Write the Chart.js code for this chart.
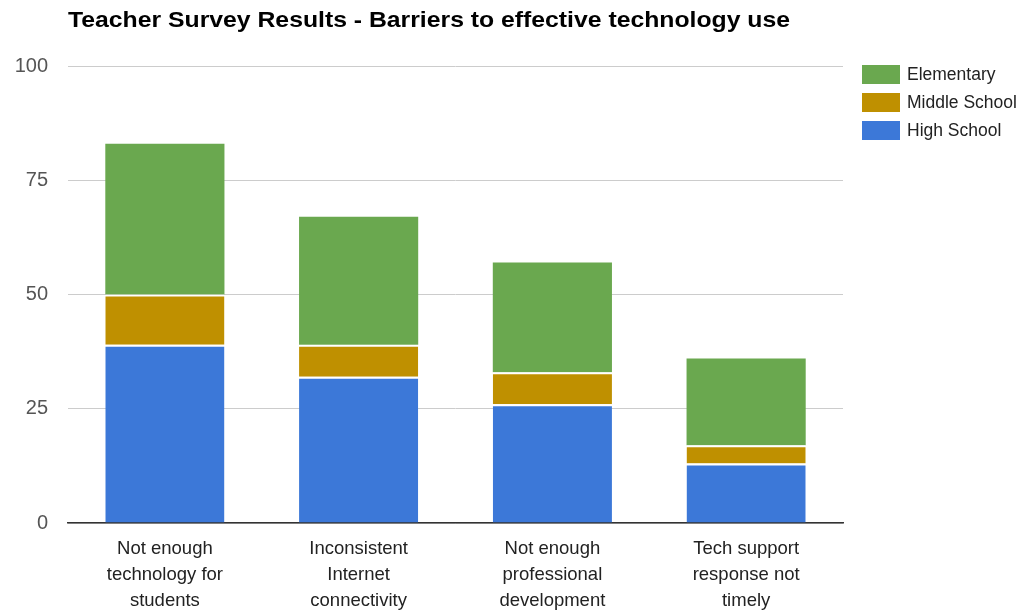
<!DOCTYPE html>
<html>
<head>
<meta charset="utf-8">
<script src="https://cdn.jsdelivr.net/npm/chart.js@4.4.0/dist/chart.umd.min.js"></script>
<style>
  html, body { margin: 0; padding: 0; background: #fff; }
  #wrap { width: 1029px; height: 613px; }
</style>
</head>
<body>
<div id="wrap"><canvas id="chart"></canvas></div>
<script>
// data
var categories = [
    ['Not enough', 'technology for', 'students'],
    ['Inconsistent', 'Internet', 'connectivity'],
    ['Not enough', 'professional', 'development'],
    ['Tech support', 'response not', 'timely']
];
var highSchool = [39, 32, 26, 13];
var middleSchool = [11, 7, 7, 4];
var elementary = [33, 28, 24, 19];
var yTicks = [0, 25, 50, 75, 100];

var chartTitle = 'Teacher Survey Results - Barriers to effective technology use';
var FONT = '"Liberation Sans", Arial, sans-serif';

// title drawn at the left edge of the plot, like the sheets chart
var titlePlugin = {
    id: 'leftTitle',
    afterDraw: function (chart) {
        var ctx = chart.ctx;
        ctx.save();
        ctx.font = 'bold 22px ' + FONT;
        ctx.fillStyle = '#000';
        ctx.textBaseline = 'middle';
        ctx.textAlign = 'left';
        // the original title runs a bit wider than our font, stretch it to fit
        var w = ctx.measureText(chartTitle).width;
        ctx.translate(chart.chartArea.left, 21);
        ctx.scale(722 / w, 1);
        ctx.fillText(chartTitle, 0, 0);
        ctx.restore();
    }
};

// legend on the right, top aligned, reversed order
var legendPlugin = {
    id: 'sideLegend',
    afterDraw: function (chart) {
        var ctx = chart.ctx;
        var x = chart.chartArea.right + 19;
        var y = 65;
        var sets = chart.data.datasets.slice().reverse();
        ctx.save();
        ctx.font = '17.5px ' + FONT;
        ctx.textBaseline = 'middle';
        ctx.textAlign = 'left';
        for (var i = 0; i < sets.length; i++) {
            ctx.fillStyle = sets[i].backgroundColor;
            ctx.fillRect(x, y + i * 28, 38, 19);
            ctx.fillStyle = '#222';
            ctx.fillText(sets[i].label, x + 45, y + i * 28 + 10);
        }
        ctx.restore();
    }
};

var config = {
    type: 'bar',
    data: {
        labels: categories,
        datasets: [{
            label: 'High School',
            data: highSchool,
            backgroundColor: '#3c78d8',
            borderColor: '#ffffff',
            borderWidth: {top: 2, left: 0, right: 0, bottom: 0},
            borderSkipped: false
        }, {
            label: 'Middle School',
            data: middleSchool,
            backgroundColor: '#bf9000',
            borderColor: '#ffffff',
            borderWidth: {top: 2, left: 0, right: 0, bottom: 0},
            borderSkipped: false
        }, {
            label: 'Elementary',
            data: elementary,
            backgroundColor: '#6aa84f',
            borderColor: '#ffffff',
            borderWidth: {top: 0, left: 0, right: 0, bottom: 0},
            borderSkipped: false
        }]
    },
    options: {
        responsive: true,
        maintainAspectRatio: false,
        animation: false,
        layout: {
            padding: {top: 66, right: 186, left: 10, bottom: 0}
        },
        datasets: {
            bar: {categoryPercentage: 1.0, barPercentage: 0.615}
        },
        plugins: {
            legend: {display: false},
            title: {display: false},
            tooltip: {enabled: false}
        },
        scales: {
            x: {
                stacked: true,
                afterFit: function (axis) { axis.height = 90; },
                grid: {display: false, drawTicks: false},
                border: {display: true, color: '#333', width: 1.5},
                ticks: {
                    color: '#222',
                    font: {family: FONT, size: 18.5, lineHeight: 1.4},
                    padding: 13,
                    maxRotation: 0
                }
            },
            y: {
                stacked: true,
                min: 0,
                max: 100,
                afterBuildTicks: function (axis) {
                    axis.ticks = yTicks.map(function (v) { return {value: v}; });
                },
                afterFit: function (axis) { axis.width = 58; },
                grid: {color: '#cccccc', lineWidth: 1, drawTicks: false},
                border: {display: false},
                ticks: {
                    color: '#555',
                    font: {family: FONT, size: 20},
                    padding: 20
                }
            }
        }
    },
    plugins: [titlePlugin, legendPlugin]
};

var ctx = document.getElementById('chart').getContext('2d');
var myChart = new Chart(ctx, config);
</script>
</body>
</html>
